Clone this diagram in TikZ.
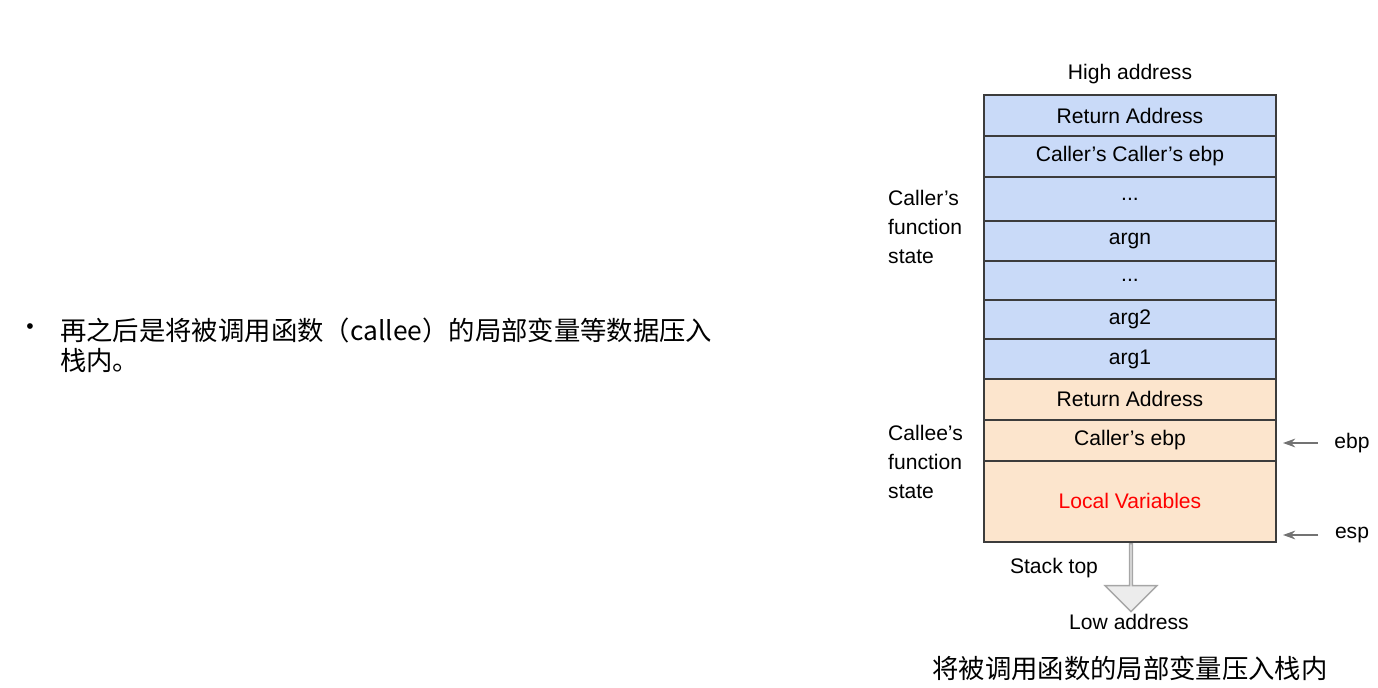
\documentclass[tikz,border=0pt]{standalone}
\usepackage{fontspec}
\setmainfont{Liberation Sans}
\newfontfamily\cjk{Noto Sans CJK SC}
\usetikzlibrary{shapes.arrows, arrows.meta, positioning}
\definecolor{CallerBlue}{RGB}{201,218,248}
\definecolor{CalleeOrange}{RGB}{252,229,205}
\definecolor{FrameGray}{RGB}{60,60,60}
\begin{document}
\begin{tikzpicture}[x=0.02cm, y=-0.02cm,
    slot/.style={draw=FrameGray, thick, minimum width=5.84cm, inner sep=0pt, outer sep=0pt, font=\fontsize{12}{14}\selectfont},
    caller/.style={slot, fill=CallerBlue},
    callee/.style={slot, fill=CalleeOrange},
    side/.style={font=\fontsize{12}{16.5}\selectfont, align=left, anchor=west},
    plain/.style={font=\fontsize{12}{14}\selectfont},
    pointer/.style={-{Stealth[length=7pt,width=5pt]}, gray!90!black, thick}
  ]
  \useasboundingbox (0,0) rectangle (1378,688);

  % bullet text
  \node[plain] (dot) at (30,329) {•};
  \node[anchor=west, align=left, font=\cjk\fontsize{15}{17}\selectfont] (bullet) at (54,345)
    {再之后是将被调用函数（callee）的局部变量等数据压入\\栈内。};

  % stack slots
  \node[caller, minimum height=0.82cm, anchor=north west] (ret1) at (984,95) {Return Address};
  \node[caller, minimum height=0.82cm, below=0pt of ret1] (cceb) {Caller’s Caller’s ebp};
  \node[caller, minimum height=0.88cm, below=0pt of cceb] (dots1) {...};
  \node[caller, minimum height=0.80cm, below=0pt of dots1] (argn) {argn};
  \node[caller, minimum height=0.78cm, below=0pt of argn] (dots2) {...};
  \node[caller, minimum height=0.78cm, below=0pt of dots2] (arg2) {arg2};
  \node[caller, minimum height=0.80cm, below=0pt of arg2] (arg1) {arg1};
  \node[callee, minimum height=0.82cm, below=0pt of arg1] (ret2) {Return Address};
  \node[callee, minimum height=0.82cm, below=0pt of ret2] (ceb) {Caller’s ebp};
  \node[callee, minimum height=1.62cm, below=0pt of ceb, text=red] (locals) {Local Variables};

  \node[plain, above=3pt of ret1] (high) {High address};
  \node[side] (callerlbl) at (882,227) {Caller’s\\function\\state};
  \node[side] (calleelbl) at (882,462) {Callee’s\\function\\state};

  % pointers
  \node[plain] (ebp) at (1352,443) {ebp};
  \node[plain] (esp) at (1352,535) {esp};
  \draw[pointer] ([xshift=-6pt]ebp.west) -- ([xshift=4pt]ebp.west -| locals.east);
  \draw[pointer] ([xshift=-6pt]esp.west) -- ([xshift=4pt]esp.west -| locals.east);

  % growth arrow
  \node[single arrow, shape border rotate=270, draw=gray!70, fill=gray!15, thick,
        minimum width=1.04cm, single arrow head extend=0.26cm, minimum height=1.36cm,
        single arrow head indent=0pt, anchor=tail, inner sep=0pt] (grow) at (1131,543) {};
  \node[plain] (stacktop) at (1054,568) {Stack top};
  \node[plain] (low) at (1129,622) {Low address};
  \node[font=\cjk\fontsize{15}{17}\selectfont] (caption) at (1130,668) {将被调用函数的局部变量压入栈内};
\end{tikzpicture}
\end{document}
